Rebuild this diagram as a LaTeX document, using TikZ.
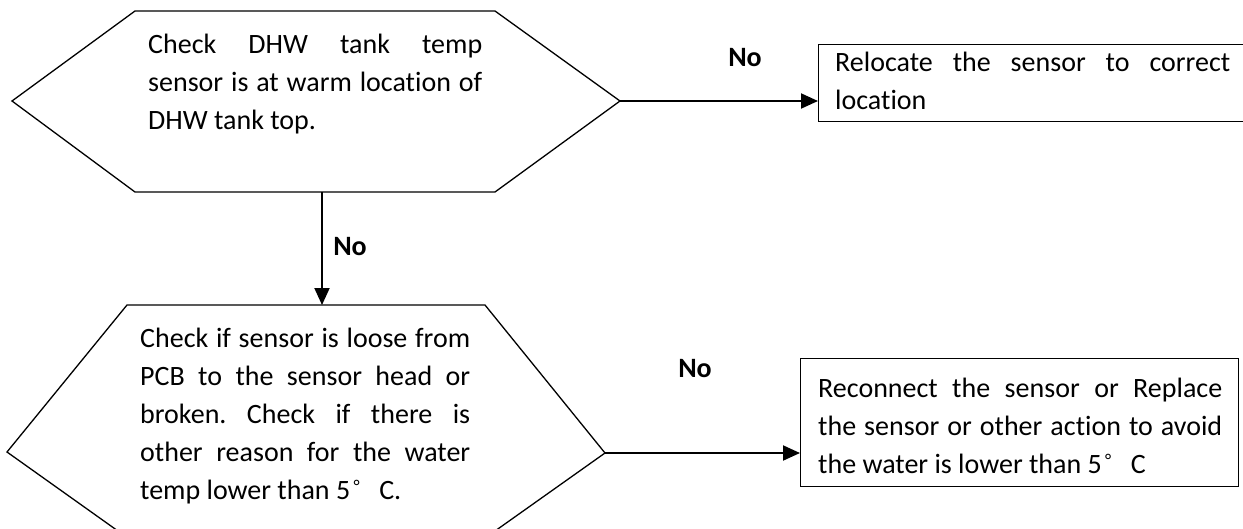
\documentclass[tikz,border=0pt]{standalone}
\usepackage{fontspec}
\setmainfont{Carlito}[Ligatures=NoCommon]
\usetikzlibrary{arrows.meta}
\frenchspacing
\newcommand{\degC}{5\hspace{0.12em}\raisebox{0.22em}{\fontsize{18}{18}\selectfont °}\hspace{0.7em}C}
\begin{document}
\begin{tikzpicture}[x=1pt,y=-1pt,
  shapeline/.style={draw=black,line width=1.3pt,line join=miter},
  conn/.style={draw=black,line width=2pt,-{Triangle[length=17pt,width=15pt]}},
  bodytext/.style={inner sep=0pt,anchor=base west,align=justify,font=\fontsize{28}{38}\selectfont},
  nolabel/.style={inner sep=0pt,font=\fontsize{28}{34}\selectfont\bfseries},
  actbox/.style={draw=black,line width=1.3pt,anchor=north west,inner sep=0pt}]
\path[use as bounding box] (0,0) rectangle (1243,528);
\begin{scope}
\clip (0,0) rectangle (1243,528);
% first decision hexagon
\coordinate (h1l) at (12,101);
\coordinate (h1r) at (620,101);
\coordinate (h1b) at (322,192);
\draw[shapeline] (h1l) -- (135,11) -- (495,11) -- (h1r) -- (495,192) -- (135,192) -- cycle;
\node[bodytext,text width=334pt] (t1) at (148,53)
  {Check DHW tank temp\linebreak sensor is at warm location of\linebreak DHW tank top.};
% second decision hexagon
\coordinate (h2l) at (7,452);
\coordinate (h2r) at (605,453);
\coordinate (h2t) at (322,305);
\draw[shapeline] (h2l) -- (127,305) -- (485,305) -- (h2r) -- (495,531) -- (118,531) -- cycle;
\node[bodytext,text width=330pt] (t2) at (140,347)
  {Check if sensor is loose from\linebreak PCB to the sensor head or\linebreak broken. Check if there is\linebreak other reason for the water\linebreak temp lower than \degC.};
% action boxes
\node[actbox,minimum width=470pt,minimum height=77pt] (b1) at (818,44) {};
\node[bodytext,text width=395pt] (t3) at (835,71)
  {Relocate the sensor to correct\linebreak location};
\node[actbox,minimum width=438pt,minimum height=128pt] (b2) at (800,358) {};
\node[bodytext,text width=404pt] (t4) at (818,397)
  {Reconnect the sensor or Replace\linebreak the sensor or other action to avoid\linebreak the water is lower than \degC};
% connectors
\draw[conn] (h1r) -- (h1r -| b1.west);
\draw[conn] (h1b) -- (h2t);
\draw[conn] (h2r) -- (h2r -| b2.west);
% labels
\node[nolabel] (n1) at (745,58) {No};
\node[nolabel] (n2) at (350,247) {No};
\node[nolabel] (n3) at (695,369) {No};
\end{scope}
\end{tikzpicture}
\end{document}
